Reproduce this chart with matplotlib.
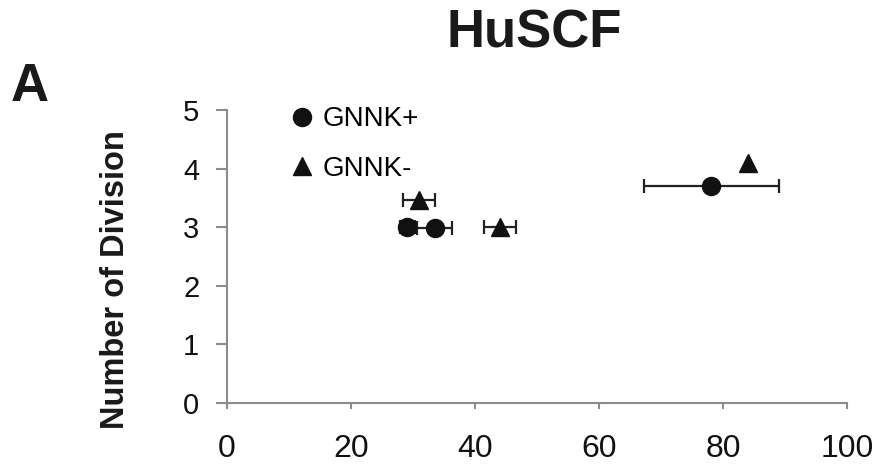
import matplotlib
matplotlib.use("Agg")
import matplotlib.pyplot as plt

# Data
pos_x = [29.1, 33.5, 78.1]
pos_y = [3.0, 2.99, 3.70]
pos_xerr = [1.2, 2.8, 10.9]

neg_x = [31.0, 44.0, 84.1]
neg_y = [3.46, 3.0, 4.10]
neg_xerr = [2.6, 2.6, 0.0]

xticks = [0, 20, 40, 60, 80, 100]
yticks = [0, 1, 2, 3, 4, 5]

plt.rcParams["font.family"] = ["Liberation Sans", "DejaVu Sans"]

fig = plt.figure(figsize=(8.8, 4.66), dpi=100, facecolor="w")
ax = fig.add_axes([0.258, 0.135, 0.7045, 0.6288])

ax.errorbar(pos_x, pos_y, xerr=pos_xerr, fmt="o", color="#111111", ms=13,
            ecolor="#222222", elinewidth=1.6, capsize=5, capthick=1.6,
            label="GNNK+", zorder=3)
ax.errorbar(neg_x, neg_y, xerr=neg_xerr, fmt="^", color="#111111", ms=13,
            ecolor="#222222", elinewidth=1.6, capsize=5, capthick=1.6,
            label="GNNK-", zorder=3)

ax.set_xlim(0, 100)
ax.set_ylim(0, 5)
ax.set_xticks(xticks)
ax.set_yticks(yticks)

for side in ["top", "right"]:
    ax.spines[side].set_visible(False)
for side in ["left", "bottom"]:
    ax.spines[side].set_color("#8c8c8c")
    ax.spines[side].set_linewidth(1.5)

ax.tick_params(axis="both", direction="out", width=1.5,
               colors="#8c8c8c", labelcolor="#111111")
ax.tick_params(axis="x", labelsize=23, length=4, pad=18)
ax.tick_params(axis="y", labelsize=21, length=8, pad=12)

ax.set_ylabel("Number of Division", fontsize=23.5, fontweight="bold",
              color="#1a1a1a")
ax.yaxis.label.set_va("center")
ax.yaxis.set_label_coords(-0.18, 0.42)

handles, labels = ax.get_legend_handles_labels()
handles = [h[0] for h in handles]
ax.legend(handles, labels, loc="upper left", bbox_to_anchor=(0.329, 0.772),
          bbox_transform=fig.transFigure, frameon=False, fontsize=20,
          handletextpad=0.3, handlelength=0.9, labelspacing=0.85,
          borderpad=0, borderaxespad=0)

fig.text(0.607, 0.929, "HuSCF", fontsize=38, fontweight="bold",
         color="#1a1a1a", ha="center", va="center")
fig.text(0.034, 0.813, "A", fontsize=38, fontweight="bold",
         color="#1a1a1a", ha="center", va="center")

fig.savefig("out.png", dpi=100, facecolor="w")
